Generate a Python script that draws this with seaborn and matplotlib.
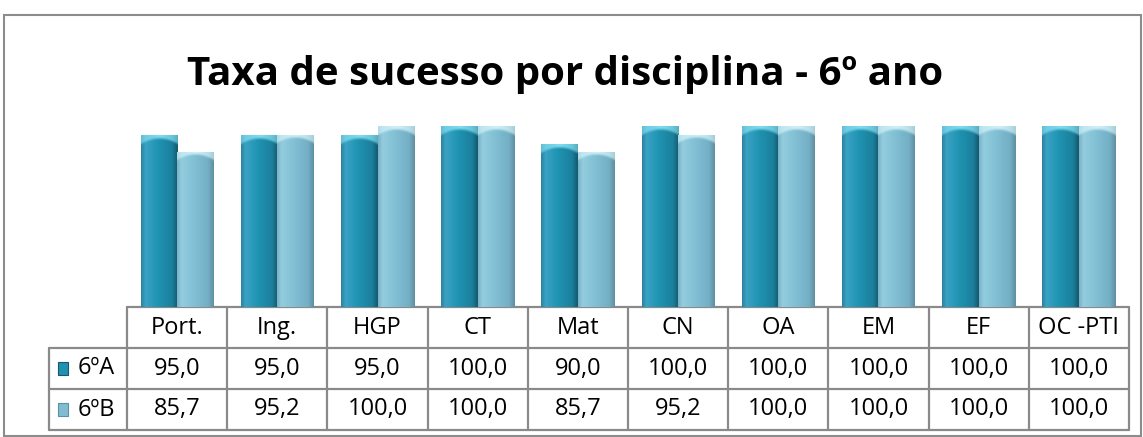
import numpy as np
import pandas as pd
import seaborn as sns
import matplotlib
matplotlib.use("Agg")
import matplotlib.pyplot as plt
from matplotlib.colors import to_rgb
from matplotlib.patches import Rectangle
from matplotlib.transforms import blended_transform_factory

# ---------------- data ----------------
disciplinas = ["Port.", "Ing.", "HGP", "CT", "Mat", "CN", "OA", "EM", "EF", "OC -PTI"]
turma_6A = [95.0, 95.0, 95.0, 100.0, 90.0, 100.0, 100.0, 100.0, 100.0, 100.0]
turma_6B = [85.7, 95.2, 100.0, 100.0, 85.7, 95.2, 100.0, 100.0, 100.0, 100.0]
turmas = ["6ºA", "6ºB"]
titulo = "Taxa de sucesso por disciplina - 6º ano"

df = pd.DataFrame({
    "disciplina": disciplinas * 2,
    "turma": [turmas[0]] * len(disciplinas) + [turmas[1]] * len(disciplinas),
    "valor": turma_6A + turma_6B,
})

# ---------------- style ----------------
sns.set_theme(style="white")
plt.rcParams["font.family"] = ["Open Sans", "DejaVu Sans"]

W, H = 1143, 437
fig = plt.figure(figsize=(W / 100, H / 100), dpi=100)

def fx(px):
    return px / W

def fy(py):
    return 1 - py / H

ax_l, ax_r, ax_t, ax_b = 127, 1129, 126, 307
ax = fig.add_axes([fx(ax_l), fy(ax_b), fx(ax_r - ax_l), (ax_b - ax_t) / H])

base_cols = ["#2291B0", "#80BDD3"]
sns.barplot(data=df, x="disciplina", y="valor", hue="turma", order=disciplinas,
            hue_order=turmas, palette=base_cols, width=0.73, gap=0,
            legend=False, ax=ax, saturation=1, edgecolor="none")
ax.set_xlim(-0.5, len(disciplinas) - 0.5)
ax.set_ylim(0, 100)
ax.set_axis_off()

# cylinder-like shading for each bar
profiles = {
    0: [(0.0, "#2B83A0"), (0.12, "#3AA2C4"), (0.45, "#2094B3"), (0.85, "#1B7F9C"), (1.0, "#145A6E")],
    1: [(0.0, "#7AB3C8"), (0.12, "#93CCDF"), (0.45, "#82C0D5"), (0.85, "#74AFC4"), (1.0, "#5F8FA2")],
}
caps = {0: "#86E0F2", 1: "#D2F3F9"}

def hprofile(stops, n=60):
    t = np.linspace(0, 1, n)
    xs = [s[0] for s in stops]
    cs = np.array([to_rgb(s[1]) for s in stops])
    return np.stack([np.interp(t, xs, cs[:, k]) for k in range(3)], axis=1)

units_per_px = 100 / (ax_b - ax_t)
bars = [p for p in ax.patches]
nd = len(disciplinas)
for i, p in enumerate(bars):
    g = 0 if i < nd else 1
    x0, w, h = p.get_x(), p.get_width(), p.get_height()
    ny = 200
    prof = hprofile(profiles[g])
    img = np.tile(prof[None, :, :], (ny, 1, 1))
    ys = np.linspace(h, 0, ny)  # row 0 = top
    dist_px = (h - ys) / units_per_px
    tx = np.linspace(-1, 1, prof.shape[0])
    capc = np.array(to_rgb(caps[g]))
    for r in range(ny):
        d = dist_px[r]
        if d < 11:
            edge = 4.5 + 5.5 * tx ** 2
            wgt = np.clip((edge - d) / 3.0, 0, 1) * 0.95
            wgt = wgt * (0.65 + 0.35 * (1 - np.abs(tx)))
            img[r] = img[r] * (1 - wgt[:, None]) + capc[None, :] * wgt[:, None]
    im = ax.imshow(img, extent=[x0, x0 + w, 0, h], aspect="auto", zorder=3,
                   interpolation="bilinear")
    im.set_clip_path(p)
ax.set_xlim(-0.5, nd - 0.5)
ax.set_ylim(0, 100)

# ---------------- data table ----------------
grid = "#8A8A8A"
lw = 1.6
tr = blended_transform_factory(ax.transData, ax.transAxes)
axh = ax_b - ax_t

def ya(py):
    return (ax_b - py) / axh

row_y = [307, 348, 389, 430]
lbl_left = -0.5 - (127 - 49) / ((ax_r - ax_l) / nd)
fs = 17

ax.plot([-0.5, nd - 0.5], [ya(row_y[0])] * 2, color=grid, lw=lw, transform=tr, clip_on=False)
for r in range(1, 4):
    ax.plot([lbl_left, nd - 0.5], [ya(row_y[r])] * 2, color=grid, lw=lw, transform=tr, clip_on=False)
for c in range(nd + 1):
    ax.plot([c - 0.5] * 2, [ya(row_y[0]), ya(row_y[3])], color=grid, lw=lw, transform=tr, clip_on=False)
ax.plot([lbl_left] * 2, [ya(row_y[1]), ya(row_y[3])], color=grid, lw=lw, transform=tr, clip_on=False)

for c, name in enumerate(disciplinas):
    ax.text(c, ya((row_y[0] + row_y[1]) / 2), name, ha="center", va="center",
            fontsize=fs, color="black", transform=tr)
for r, vals in enumerate([turma_6A, turma_6B]):
    yc = ya((row_y[r + 1] + row_y[r + 2]) / 2)
    for c, v in enumerate(vals):
        ax.text(c, yc, f"{v:.1f}".replace(".", ","), ha="center", va="center",
                fontsize=fs, color="black", transform=tr)

# row labels with legend keys
for r, name in enumerate(turmas):
    yc = (row_y[r + 1] + row_y[r + 2]) / 2
    key = Rectangle((fx(58), fy(yc + 6.5)), fx(10), 13 / H, transform=fig.transFigure,
                    facecolor=base_cols[r], edgecolor=profiles[r][-1][1], lw=0.8)
    fig.add_artist(key)
    fig.text(fx(78), fy(yc), name, ha="left", va="center", fontsize=fs, color="black")

# title
fig.text(fx(565), fy(75), titulo, ha="center", va="center", fontsize=29,
         fontweight="bold", color="black")

# outer frame
fig.add_artist(Rectangle((fx(4), fy(436)), fx(1137), (436 - 15) / H, transform=fig.transFigure,
                         facecolor="none", edgecolor="#8C8C8C", lw=1.5))

fig.savefig("out.png", dpi=100)
